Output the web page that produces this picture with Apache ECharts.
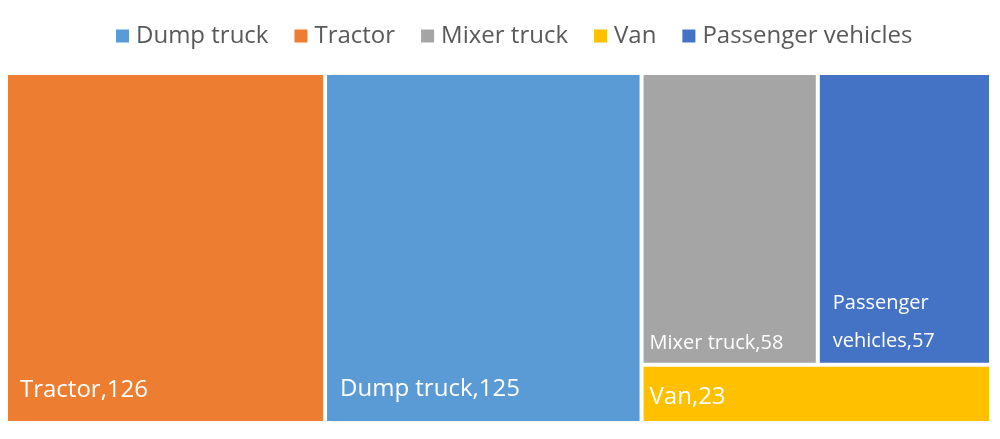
<!DOCTYPE html>
<html>
<head>
<meta charset="utf-8">
<script src="https://cdn.jsdelivr.net/npm/echarts@6/dist/echarts.min.js"></script>
<style>
    html, body { margin: 0; padding: 0; background: #fff; }
    #chart { width: 1000px; height: 439px; }
</style>
</head>
<body>
<div id="chart"></div>
<script>
    // data, in the order of the legend
    const categories = ['Dump truck', 'Tractor', 'Mixer truck', 'Van', 'Passenger vehicles'];
    const values = [125, 126, 58, 23, 57];
    const colors = ['#5B9BD5', '#ED7D31', '#A5A5A5', '#FFC000', '#4472C4'];

    const font = 'Open Sans';

    // label look per block (Excel puts them bottom-left)
    const labelLook = {
        'Tractor': { fontSize: 24, padding: [0, 0, 19, 12] },
        'Dump truck': { fontSize: 24, padding: [0, 0, 20, 13] },
        'Mixer truck': { fontSize: 20, padding: [0, 0, 9, 6] },
        'Passenger vehicles': { fontSize: 20, lineHeight: 38, padding: [0, 0, 2, 13], overflow: 'break' },
        'Van': { fontSize: 24, padding: [0, 0, 12, 6] }
    };

    const treeData = categories.map((name, i) => ({
        name: name,
        value: values[i],
        itemStyle: { color: colors[i] },
        label: labelLook[name]
    }));

    // empty series, only so the legend has its entries
    const legendSeries = categories.map((name, i) => ({
        name: name,
        type: 'graph',
        data: [],
        itemStyle: { color: colors[i] }
    }));

    const myChart = echarts.init(document.getElementById('chart'));
    myChart.setOption({
        animation: false,
        legend: {
            data: categories,
            top: 19,
            left: 111,
            icon: 'rect',
            itemWidth: 13,
            itemHeight: 13,
            itemGap: 26,
            textStyle: { color: '#595959', fontSize: 24, fontFamily: font, padding: [0, 0, 0, 2] }
        },
        series: [{
            name: 'Vehicles',
            type: 'treemap',
            left: 8,
            top: 75,
            width: 981,
            height: 346,
            roam: false,
            nodeClick: false,
            breadcrumb: { show: false },
            visibleMin: 0,
            itemStyle: { gapWidth: 4, borderWidth: 0 },
            label: {
                show: true,
                position: 'insideBottomLeft',
                distance: 0,
                color: '#fff',
                fontFamily: font,
                formatter: '{b},{c}'
            },
            data: treeData
        }].concat(legendSeries)
    });
</script>
</body>
</html>
